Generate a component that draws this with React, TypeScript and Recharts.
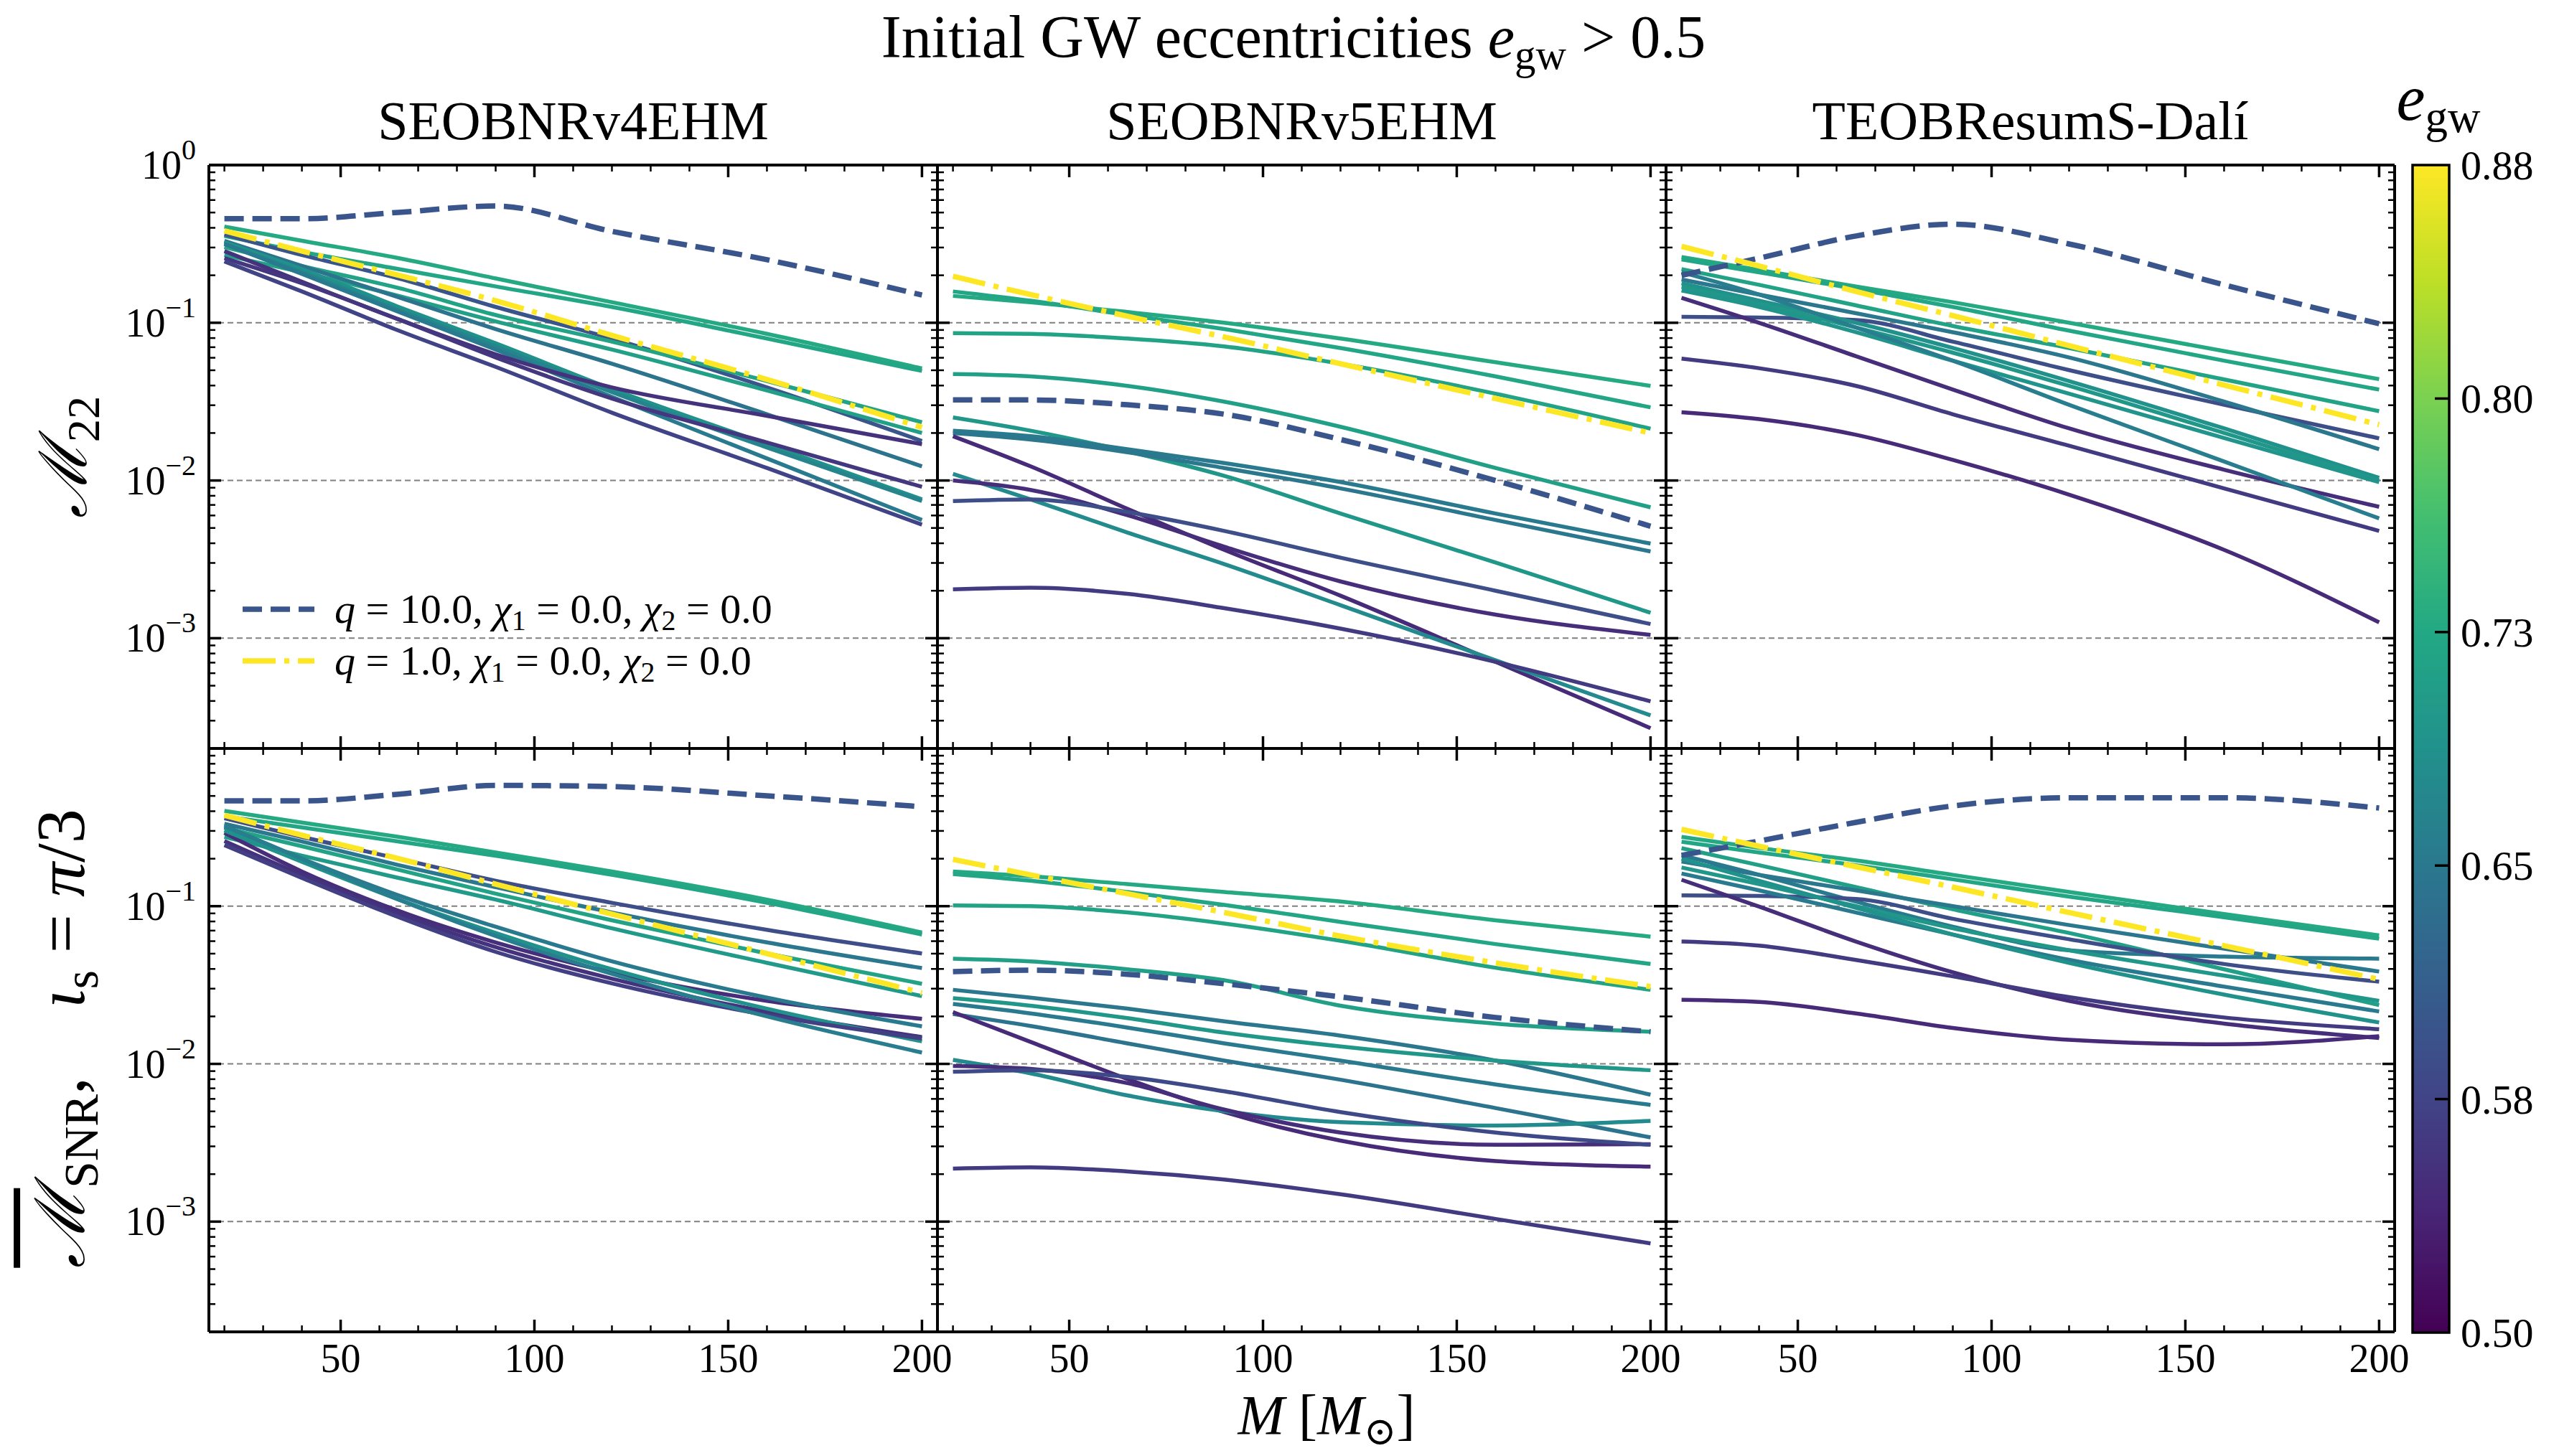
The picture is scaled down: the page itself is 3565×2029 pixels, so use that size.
import React from "react";
import {LineChart, Line, XAxis, YAxis, ReferenceLine} from "recharts";

const FONT = "'Liberation Serif', 'DejaVu Serif', serif";

const masses = [20, 40, 65, 90, 120, 160, 200];

// ---- SEOBNRv4EHM, M_22
const v4TopSolid: number[][] = [
  [0.407, 0.331, 0.257, 0.191, 0.135, 0.0851, 0.0513],
  [0.355, 0.282, 0.219, 0.170, 0.126, 0.0794, 0.0495],
  [0.363, 0.269, 0.191, 0.126, 0.0794, 0.0389, 0.0178],
  [0.302, 0.229, 0.166, 0.112, 0.0759, 0.0427, 0.0234],
  [0.269, 0.209, 0.148, 0.102, 0.0676, 0.0372, 0.0200],
  [0.331, 0.229, 0.145, 0.0912, 0.0550, 0.0263, 0.0123],
  [0.324, 0.219, 0.126, 0.0741, 0.0380, 0.0170, 0.00759],
  [0.316, 0.209, 0.120, 0.0708, 0.0363, 0.0162, 0.00741],
  [0.316, 0.204, 0.117, 0.0676, 0.0339, 0.0138, 0.00562],
  [0.285, 0.182, 0.105, 0.0631, 0.0389, 0.0257, 0.0170],
  [0.257, 0.178, 0.105, 0.0603, 0.0331, 0.0174, 0.00912],
  [0.245, 0.158, 0.0891, 0.0525, 0.0269, 0.0120, 0.00525],
];
const v4TopEcc = [0.73, 0.725, 0.6, 0.72, 0.715, 0.645, 0.69, 0.67, 0.655, 0.555, 0.56, 0.575];
const v4TopQ10 = [0.457, 0.457, 0.501, 0.55, 0.38, 0.251, 0.15];
const v4TopQ1 = [0.383, 0.285, 0.2, 0.138, 0.0832, 0.0437, 0.0217];

// ---- SEOBNRv5EHM, M_22
const v5TopSolid: number[][] = [
  [0.148, 0.135, 0.117, 0.1, 0.0794, 0.0562, 0.0398],
  [0.158, 0.138, 0.112, 0.0912, 0.0692, 0.0457, 0.0291],
  [0.0859, 0.0851, 0.0794, 0.0708, 0.055, 0.0355, 0.0213],
  [0.0473, 0.0457, 0.0398, 0.0316, 0.0219, 0.012, 0.00676],
  [0.0251, 0.0207, 0.0153, 0.0107, 0.00617, 0.00302, 0.00145],
  [0.0207, 0.0191, 0.0158, 0.0129, 0.00977, 0.00617, 0.00398],
  [0.02, 0.0182, 0.0151, 0.012, 0.00891, 0.00562, 0.00355],
  [0.0191, 0.0123, 0.00661, 0.00363, 0.00186, 0.000708, 0.000269],
  [0.011, 0.00759, 0.00468, 0.00295, 0.00162, 0.000724, 0.000324],
  [0.01, 0.00871, 0.00603, 0.0038, 0.00229, 0.00141, 0.00105],
  [0.00741, 0.00759, 0.00631, 0.00479, 0.00324, 0.002, 0.00123],
  [0.00204, 0.00209, 0.00191, 0.00155, 0.00115, 0.000708, 0.000398],
];
const v5TopEcc = [0.73, 0.725, 0.72, 0.715, 0.7, 0.655, 0.65, 0.545, 0.68, 0.55, 0.59, 0.565];
const v5TopQ10 = [0.0324, 0.0324, 0.0302, 0.0263, 0.0182, 0.01, 0.00513];
const v5TopQ1 = [0.197, 0.151, 0.11, 0.0813, 0.055, 0.0331, 0.02];

// ---- TEOBResumS-Dali, M_22
const teobTopSolid: number[][] = [
  [0.261, 0.216, 0.17, 0.135, 0.1, 0.0661, 0.0439],
  [0.252, 0.209, 0.164, 0.126, 0.0891, 0.0575, 0.0377],
  [0.219, 0.174, 0.129, 0.0955, 0.0692, 0.0437, 0.0275],
  [0.109, 0.108, 0.104, 0.0759, 0.0501, 0.0302, 0.0185],
  [0.144, 0.1, 0.0614, 0.0377, 0.0214, 0.0117, 0.00681],
  [0.0593, 0.0515, 0.0398, 0.0263, 0.0166, 0.00891, 0.00479],
  [0.0271, 0.0245, 0.0195, 0.0135, 0.00813, 0.00363, 0.00126],
  [0.188, 0.151, 0.115, 0.0871, 0.0603, 0.0316, 0.0158],
  [0.178, 0.138, 0.1, 0.0692, 0.0427, 0.0214, 0.0104],
  [0.169, 0.132, 0.0933, 0.0646, 0.0398, 0.02, 0.01],
  [0.16, 0.126, 0.0871, 0.0575, 0.0355, 0.0186, 0.00977],
  [0.209, 0.151, 0.0933, 0.0575, 0.0302, 0.0132, 0.00575],
];
const teobTopEcc = [0.73, 0.725, 0.72, 0.59, 0.55, 0.565, 0.545, 0.65, 0.69, 0.7, 0.695, 0.66];
const teobTopQ10 = [0.2, 0.257, 0.355, 0.422, 0.316, 0.174, 0.0986];
const teobTopQ1 = [0.305, 0.229, 0.158, 0.111, 0.0716, 0.0403, 0.0226];

// ---- SEOBNRv4EHM, SNR-weighted, iota = pi/3
const v4BotSolid: number[][] = [
  [0.402, 0.339, 0.275, 0.219, 0.166, 0.11, 0.0681],
  [0.372, 0.316, 0.257, 0.209, 0.158, 0.105, 0.0661],
  [0.361, 0.275, 0.2, 0.145, 0.105, 0.0708, 0.0501],
  [0.333, 0.257, 0.182, 0.132, 0.0912, 0.0589, 0.0405],
  [0.314, 0.24, 0.17, 0.12, 0.0813, 0.0501, 0.0322],
  [0.275, 0.209, 0.151, 0.11, 0.0724, 0.0437, 0.0269],
  [0.292, 0.166, 0.0933, 0.0589, 0.038, 0.0251, 0.0193],
  [0.316, 0.2, 0.117, 0.0741, 0.0447, 0.0263, 0.0173],
  [0.259, 0.158, 0.0891, 0.055, 0.0347, 0.0214, 0.0148],
  [0.302, 0.191, 0.11, 0.0676, 0.0398, 0.0224, 0.0139],
  [0.244, 0.151, 0.0851, 0.0513, 0.0324, 0.0204, 0.0145],
  [0.324, 0.2, 0.11, 0.0646, 0.0372, 0.02, 0.0118],
];
const v4BotEcc = [0.73, 0.725, 0.59, 0.65, 0.72, 0.705, 0.55, 0.655, 0.555, 0.69, 0.57, 0.66];
const v4BotQ10 = [0.465, 0.465, 0.513, 0.583, 0.573, 0.501, 0.427];
const v4BotQ1 = [0.377, 0.282, 0.2, 0.138, 0.0891, 0.0501, 0.0282];

// ---- SEOBNRv5EHM, SNR-weighted
const v5BotSolid: number[][] = [
  [0.166, 0.155, 0.138, 0.123, 0.107, 0.0813, 0.0641],
  [0.16, 0.145, 0.123, 0.102, 0.0794, 0.0575, 0.043],
  [0.101, 0.1, 0.0912, 0.0776, 0.0603, 0.0407, 0.0295],
  [0.0465, 0.0447, 0.0398, 0.0339, 0.0234, 0.018, 0.016],
  [0.0295, 0.0263, 0.0224, 0.0186, 0.0151, 0.0105, 0.00638],
  [0.0261, 0.0234, 0.0195, 0.0158, 0.0129, 0.0105, 0.00912],
  [0.024, 0.0209, 0.017, 0.0135, 0.0105, 0.00741, 0.0055],
  [0.0207, 0.0174, 0.0135, 0.0105, 0.00794, 0.00525, 0.00342],
  [0.0213, 0.0138, 0.00802, 0.00495, 0.00326, 0.00242, 0.00223],
  [0.0106, 0.00871, 0.00631, 0.00501, 0.00427, 0.00407, 0.00435],
  [0.00971, 0.00931, 0.00755, 0.00513, 0.00367, 0.00307, 0.0031],
  [0.00891, 0.00912, 0.00826, 0.0067, 0.00495, 0.00367, 0.00307],
  [0.00217, 0.00221, 0.00208, 0.00185, 0.00149, 0.00104, 0.000728],
];
const v5BotEcc = [0.73, 0.725, 0.72, 0.715, 0.65, 0.7, 0.655, 0.645, 0.545, 0.68, 0.55, 0.585, 0.565];
const v5BotQ10 = [0.0385, 0.0393, 0.037, 0.0322, 0.0266, 0.0197, 0.016];
const v5BotQ1 = [0.198, 0.158, 0.12, 0.0912, 0.0646, 0.0437, 0.0309];

// ---- TEOBResumS-Dali, SNR-weighted
const teobBotSolid: number[][] = [
  [0.275, 0.234, 0.195, 0.158, 0.123, 0.0891, 0.0653],
  [0.256, 0.219, 0.182, 0.148, 0.115, 0.0851, 0.0622],
  [0.233, 0.182, 0.132, 0.0955, 0.0676, 0.0398, 0.0236],
  [0.21, 0.158, 0.107, 0.0741, 0.0525, 0.0479, 0.0465],
  [0.117, 0.116, 0.111, 0.0832, 0.0617, 0.043, 0.0332],
  [0.192, 0.158, 0.126, 0.1, 0.0759, 0.0537, 0.0385],
  [0.176, 0.138, 0.1, 0.0724, 0.0525, 0.0363, 0.0251],
  [0.161, 0.126, 0.0912, 0.0661, 0.0457, 0.0309, 0.0215],
  [0.2, 0.145, 0.0977, 0.0661, 0.0437, 0.0275, 0.0183],
  [0.147, 0.0993, 0.0597, 0.0381, 0.0251, 0.018, 0.0146],
  [0.0597, 0.0562, 0.0456, 0.0359, 0.0265, 0.0197, 0.0166],
  [0.0255, 0.0247, 0.0209, 0.0169, 0.0142, 0.0133, 0.015],
];
const teobBotEcc = [0.73, 0.725, 0.715, 0.655, 0.59, 0.65, 0.7, 0.655, 0.69, 0.55, 0.565, 0.545];
const teobBotQ10 = [0.21, 0.259, 0.34, 0.432, 0.487, 0.487, 0.419];
const teobBotQ1 = [0.307, 0.24, 0.178, 0.132, 0.0912, 0.0562, 0.0344];

const modelTitles = ["SEOBNRv4EHM", "SEOBNRv5EHM", "TEOBResumS-Dalí"];
const xTicks = [20, 30, 40, 50, 60, 70, 80, 90, 100, 110, 120, 130, 140, 150, 160, 170, 180, 190, 200];
const yTicks = [
  2e-4, 3e-4, 4e-4, 5e-4, 6e-4, 7e-4, 8e-4, 9e-4,
  1e-3, 2e-3, 3e-3, 4e-3, 5e-3, 6e-3, 7e-3, 8e-3, 9e-3,
  1e-2, 2e-2, 3e-2, 4e-2, 5e-2, 6e-2, 7e-2, 8e-2, 9e-2,
  0.1, 0.2, 0.3, 0.4, 0.5, 0.6, 0.7, 0.8, 0.9, 1,
];
const yGrid = [1e-3, 1e-2, 1e-1];
const cbarTicks = [0.5, 0.576, 0.652, 0.728, 0.804, 0.88];
const cbarLabels = ["0.50", "0.58", "0.65", "0.73", "0.80", "0.88"];

const viridis = ["#440154", "#482475", "#414487", "#355f8d", "#2a788e", "#21918c", "#22a884", "#44bf70", "#7ad151", "#bddf26", "#fde725"];
const E_MIN = 0.5;
const E_MAX = 0.88;

function eccColor(e: number) {
  const t = Math.min(1, Math.max(0, (e - E_MIN) / (E_MAX - E_MIN))) * 10;
  const i = Math.min(9, Math.floor(t));
  const f = t - i;
  const a = viridis[i], b = viridis[i + 1];
  const ch = (h: string, k: number) => parseInt(h.slice(1 + 2 * k, 3 + 2 * k), 16);
  const out = [0, 1, 2].map((k) => Math.round(ch(a, k) + (ch(b, k) - ch(a, k)) * f).toString(16).padStart(2, "0"));
  return "#" + out.join("");
}

// layout (px)
const plotLeft = [291, 1306, 2321];
const plotTop = [230, 1043];
const PW = 1015;
const PH = 813;
const ML = 150, MR = 40, MT = 60, MB = 90;
const axisStyle = {stroke: "#000", strokeWidth: 4};
const expLabel = ["0", "−1", "−2", "−3"];
const textStyle = {fontFamily: FONT} as React.CSSProperties;

const isDecade = (v: number) => Math.abs(Math.log10(v) - Math.round(Math.log10(v))) < 1e-6;

function BottomTick(props: any) {
  const {x, y, payload, showLabel} = props;
  const major = payload.value % 50 === 0;
  return (
    <g>
      <line x1={x} x2={x} y1={y} y2={y - (major ? 17 : 9)} stroke="#000" strokeWidth={major ? 3.5 : 2.5} />
      {showLabel && major && (
        <text x={x} y={y + 56} textAnchor="middle" fontSize={56} style={textStyle} fill="#000">
          {payload.value}
        </text>
      )}
    </g>
  );
}

function TopTick(props: any) {
  const {x, y, payload} = props;
  const major = payload.value % 50 === 0;
  return <line x1={x} x2={x} y1={y} y2={y + (major ? 17 : 9)} stroke="#000" strokeWidth={major ? 3.5 : 2.5} />;
}

function LeftTick(props: any) {
  const {x, y, payload, showLabel, row} = props;
  const major = isDecade(payload.value);
  const p = -Math.round(Math.log10(payload.value));
  const label = showLabel && major && !(row === 1 && p === 0) ? expLabel[p] : null;
  return (
    <g>
      <line x1={x} x2={x + (major ? 17 : 9)} y1={y} y2={y} stroke="#000" strokeWidth={major ? 3.5 : 2.5} />
      {label && (
        <text x={x - 18} y={y + 19} textAnchor="end" fontSize={56} style={textStyle} fill="#000">
          10<tspan fontSize={40} dy={-27}>{label}</tspan>
        </text>
      )}
    </g>
  );
}

function RightTick(props: any) {
  const {x, y, payload} = props;
  const major = isDecade(payload.value);
  return <line x1={x} x2={x - (major ? 17 : 9)} y1={y} y2={y} stroke="#000" strokeWidth={major ? 3.5 : 2.5} />;
}

type PanelProps = {col: number; row: number; solid: number[][]; ecc: number[]; q10: number[]; q1: number[]};

function Panel({col, row, solid, ecc, q10, q1}: PanelProps) {
  const data = masses.map((m, i) => {
    const r: Record<string, number> = {m, q10: q10[i], q1: q1[i]};
    solid.forEach((s, k) => (r["s" + k] = s[i]));
    return r;
  });
  // each axis band is 1px wide so the plot area stays PW x PH
  return (
    <div style={{position: "absolute", left: plotLeft[col] - ML, top: plotTop[row] - MT}}>
      <LineChart width={PW + ML + MR} height={PH + MT + MB} data={data}
        margin={{top: MT - 1, right: MR - 1, bottom: MB - 1, left: ML - 1}}>
        <XAxis xAxisId="b" dataKey="m" type="number" domain={[16, 204]} allowDataOverflow ticks={xTicks} interval={0}
          height={1} tickSize={0} tickMargin={0} axisLine={axisStyle} tickLine={false}
          tick={(p: any) => <BottomTick {...p} showLabel={row === 1} />} />
        <XAxis xAxisId="t" orientation="top" dataKey="m" type="number" domain={[16, 204]} allowDataOverflow ticks={xTicks} interval={0}
          height={1} tickSize={0} tickMargin={0} axisLine={axisStyle} tickLine={false} tick={(p: any) => <TopTick {...p} />} />
        <YAxis yAxisId="l" type="number" scale="log" domain={[2e-4, 1]} allowDataOverflow ticks={yTicks} interval={0}
          width={1} tickSize={0} tickMargin={0} axisLine={axisStyle} tickLine={false}
          tick={(p: any) => <LeftTick {...p} showLabel={col === 0} row={row} />} />
        <YAxis yAxisId="r" orientation="right" type="number" scale="log" domain={[2e-4, 1]} allowDataOverflow ticks={yTicks} interval={0}
          width={1} tickSize={0} tickMargin={0} axisLine={axisStyle} tickLine={false} tick={(p: any) => <RightTick {...p} />} />
        {yGrid.map((v) => (
          <ReferenceLine key={v} xAxisId="b" yAxisId="l" y={v} stroke="#808080" strokeWidth={2} strokeDasharray="8 5" />
        ))}
        {solid.map((_, k) => (
          <Line key={k} xAxisId="b" yAxisId="l" dataKey={"s" + k} type="monotone" stroke={eccColor(ecc[k])}
            strokeWidth={5.5} dot={false} isAnimationActive={false} />
        ))}
        <Line xAxisId="b" yAxisId="l" dataKey="q10" type="monotone" stroke={eccColor(0.6)} strokeWidth={7.5}
          strokeDasharray="27 12" dot={false} isAnimationActive={false} />
        <Line xAxisId="b" yAxisId="l" dataKey="q1" type="monotone" stroke={eccColor(0.88)} strokeWidth={7.5}
          strokeDasharray="46 12 7 12" dot={false} isAnimationActive={false} />
      </LineChart>
    </div>
  );
}

function Txt({x, y, size, rotate, lh = 1.25, children}: {x: number; y: number; size: number; rotate?: number; lh?: number; children: React.ReactNode}) {
  return (
    <div style={{position: "absolute", left: x, top: y, transform: `translate(-50%, -50%)${rotate ? ` rotate(${rotate}deg)` : ""}`,
      fontSize: size, fontFamily: FONT, whiteSpace: "pre", lineHeight: lh, color: "#000"}}>
      {children}
    </div>
  );
}

const sub = {fontSize: "0.7em", verticalAlign: "-0.28em"} as React.CSSProperties;
const scriptM = {fontFamily: "'DejaVu Serif', serif", fontStyle: "italic"} as React.CSSProperties;

function LegendRow({y, n}: {y: number; n: string}) {
  return (
    <text x={466} y={y + 19} fontSize={58} style={textStyle} fill="#000">
      <tspan fontStyle="italic">q</tspan> = {n}, <tspan fontStyle="italic">χ</tspan>
      <tspan fontSize={40} dy={10}>1</tspan><tspan dy={-10}> = 0.0, </tspan>
      <tspan fontStyle="italic">χ</tspan><tspan fontSize={40} dy={10}>2</tspan><tspan dy={-10}> = 0.0</tspan>
    </text>
  );
}

function Overlay() {
  const cx = 3361, cw = 51, cy = 230, ch = 1627;
  return (
    <svg width={3565} height={2029} style={{position: "absolute", left: 0, top: 0, pointerEvents: "none"}}>
      <defs>
        <linearGradient id="viridisBar" x1="0" y1="1" x2="0" y2="0">
          {viridis.map((c, i) => (
            <stop key={i} offset={i / 10} stopColor={c} />
          ))}
        </linearGradient>
      </defs>
      <rect x={cx} y={cy} width={cw} height={ch} fill="url(#viridisBar)" stroke="#000" strokeWidth={3.5} />
      {cbarTicks.map((t, i) => {
        const yy = cy + (ch * (E_MAX - t)) / (E_MAX - E_MIN);
        return (
          <g key={i}>
            {i > 0 && i < cbarTicks.length - 1 && <line x1={cx + cw} x2={cx + cw - 20} y1={yy} y2={yy} stroke="#000" strokeWidth={3.5} />}
            <text x={cx + cw + 16} y={yy + 20} fontSize={58} style={textStyle} fill="#000">{cbarLabels[i]}</text>
          </g>
        );
      })}
      <line x1={338} x2={438} y1={849} y2={849} stroke={eccColor(0.6)} strokeWidth={7.5} strokeDasharray="27 12" />
      <line x1={338} x2={438} y1={921} y2={921} stroke={eccColor(0.88)} strokeWidth={7.5} strokeDasharray="46 12 7 12" />
      <LegendRow y={849} n="10.0" />
      <LegendRow y={921} n="1.0" />
    </svg>
  );
}

export default function App() {
  const panels: PanelProps[] = [
    {col: 0, row: 0, solid: v4TopSolid, ecc: v4TopEcc, q10: v4TopQ10, q1: v4TopQ1},
    {col: 1, row: 0, solid: v5TopSolid, ecc: v5TopEcc, q10: v5TopQ10, q1: v5TopQ1},
    {col: 2, row: 0, solid: teobTopSolid, ecc: teobTopEcc, q10: teobTopQ10, q1: teobTopQ1},
    {col: 0, row: 1, solid: v4BotSolid, ecc: v4BotEcc, q10: v4BotQ10, q1: v4BotQ1},
    {col: 1, row: 1, solid: v5BotSolid, ecc: v5BotEcc, q10: v5BotQ10, q1: v5BotQ1},
    {col: 2, row: 1, solid: teobBotSolid, ecc: teobBotEcc, q10: teobBotQ10, q1: teobBotQ1},
  ];
  return (
    <div style={{position: "absolute", left: 0, top: 0, width: 3565, height: 2029, background: "#fff", overflow: "hidden", fontFamily: FONT}}>
      <Txt x={1802} y={56} size={84}>
        Initial GW eccentricities <i>e</i><span style={sub}>gw</span> &gt; 0.5
      </Txt>
      {modelTitles.map((t, i) => (
        <Txt key={t} x={plotLeft[i] + PW / 2} y={168} size={76}>{t}</Txt>
      ))}
      {panels.map((p) => (
        <Panel key={`${p.col}-${p.row}`} {...p} />
      ))}
      <Overlay />
      <Txt x={94} y={637} size={92} rotate={-90}>
        <span style={scriptM}>ℳ</span><span style={sub}>22</span>
      </Txt>
      <Txt x={90} y={1447} size={96} rotate={-90}>
        <span style={{...scriptM, textDecoration: "overline"}}>ℳ</span><span style={sub}>SNR</span>{",    "}<i>ι</i><span style={sub}>s</span>{" = "}<i>π</i>/3
      </Txt>
      <Txt x={1848} y={1978} size={78} lh={1}>
        <i>M</i> [<i>M</i><span style={sub}>⊙</span>]
      </Txt>
      <Txt x={3397} y={142} size={90}>
        <i>e</i><span style={sub}>gw</span>
      </Txt>
    </div>
  );
}
